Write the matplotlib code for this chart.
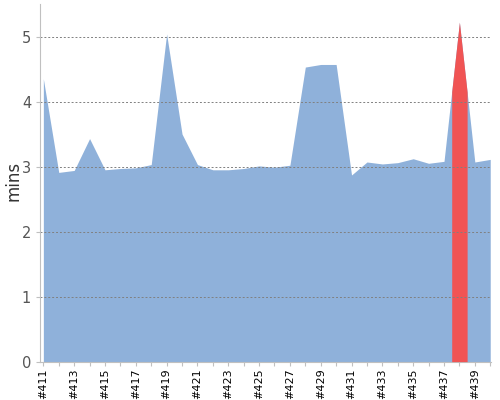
import numpy as np
import matplotlib
matplotlib.use("Agg")
import matplotlib.pyplot as plt

builds = ["#%d" % n for n in range(411, 441)]
mins = [4.35, 2.91, 2.94, 3.43, 2.95, 2.97, 2.98, 3.03, 5.04, 3.50,
        3.03, 2.95, 2.95, 2.97, 3.01, 2.99, 3.02, 4.53, 4.57, 4.57,
        2.87, 3.07, 3.04, 3.06, 3.12, 3.05, 3.08, 5.22, 3.07, 3.11]
highlight = "#438"
ylabel = "mins"

fig = plt.figure(figsize=(5, 4), dpi=100)
ax = fig.add_axes([0.079, 0.096, 0.903, 0.894])

x = np.arange(len(builds))
y = np.array(mins)
ax.fill_between(x, 0, y, color="#8fb1da", linewidth=0, zorder=2)

hi = builds.index(highlight)
xs = np.linspace(hi - 0.5, hi + 0.5, 101)
ax.fill_between(xs, 0, np.interp(xs, x, y), color="#f05454", linewidth=0, zorder=3)

ax.set_xlim(-0.25, len(builds) - 1 + 0.05)
ax.set_ylim(0, 5.5)
ax.set_yticks([0, 1, 2, 3, 4, 5])
ax.set_yticklabels(["0", "1", "2", "3", "4", "5"], color="#555555", fontsize=10.5)
ax.set_xticks(x)
ax.set_xticklabels([b if i % 2 == 0 else "" for i, b in enumerate(builds)],
                   rotation=90, fontsize=8, color="#000000")
ax.tick_params(axis="x", length=3, color="#c0c0c0", pad=2)
ax.tick_params(axis="y", length=3, color="#c0c0c0", pad=3)
fig.text(0.027, 0.547, ylabel, fontsize=12, color="#333333",
         rotation=90, ha="center", va="center")

for v in [1, 2, 3, 4, 5]:
    ax.axhline(v, color="#808080", linewidth=0.7, linestyle=(0, (2, 2)), zorder=4)

for s in ["top", "right"]:
    ax.spines[s].set_visible(False)
ax.spines["left"].set_color("#c0c0c0")
ax.spines["bottom"].set_color("#c0c0c0")
ax.spines["left"].set_zorder(5)

fig.savefig("out.png", dpi=100)
